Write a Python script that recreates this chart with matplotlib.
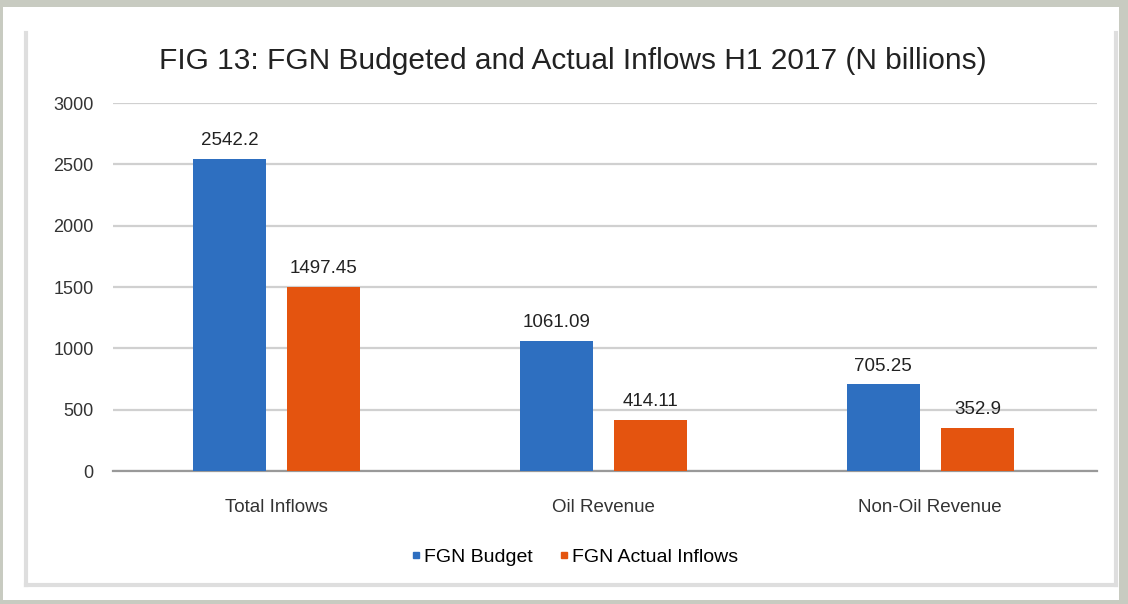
import numpy as np
import matplotlib
matplotlib.use('Agg')
import matplotlib.pyplot as plt
from matplotlib.lines import Line2D
from matplotlib.patches import Rectangle

plt.rcParams['font.family'] = ['Liberation Sans', 'DejaVu Sans']

categories = ['Total Inflows', 'Oil Revenue', 'Non-Oil Revenue']
budget = [2542.2, 1061.09, 705.25]
actual = [1497.45, 414.11, 352.9]
budget_labels = ['2542.2', '1061.09', '705.25']
actual_labels = ['1497.45', '414.11', '352.9']
yticks = [0, 500, 1000, 1500, 2000, 2500, 3000]

blue = '#2e6fc0'
orange = '#e4540f'

fig = plt.figure(figsize=(11.28, 6.04), dpi=100)
fig.patch.set_facecolor('#c8cbc1')

# white card and the light panel border
W, H = 1128., 604.
fig.patches.append(Rectangle((3 / W, 4 / H), 1116 / W, 593 / H, transform=fig.transFigure,
                             facecolor='white', edgecolor='none', zorder=-5))
for xs, ys in [([26, 26], [33, 585]), ([26, 1116], [585, 585]), ([1116, 1116], [33, 585])]:
    fig.add_artist(Line2D([x / W for x in xs], [1 - y / H for y in ys], color='#dedede', lw=3,
                          zorder=-4))

ax = fig.add_axes([113 / W, 1 - 471 / H, 984 / W, 368 / H])
ax.set_zorder(2)
ax.patch.set_alpha(0)

x = np.arange(len(categories))
w = 0.223
off = 0.144
b1 = ax.bar(x - off, budget, w, color=blue, zorder=3)
b2 = ax.bar(x + off, actual, w, color=orange, zorder=3)

for bars, labs in [(b1, budget_labels), (b2, actual_labels)]:
    for r, t in zip(bars, labs):
        ax.text(r.get_x() + r.get_width() / 2, r.get_height() + 80, t,
                ha='center', va='bottom', fontsize=13.5, color='#222222')

ax.set_xlim(-0.5, 2.51)
ax.set_ylim(0, 3000)
ax.set_yticks(yticks)
ax.set_xticks(x)
ax.set_xticklabels(categories, fontsize=13.5, color='#333333')
ax.tick_params(axis='y', labelsize=13, colors='#333333', length=0, pad=14)
ax.tick_params(axis='x', length=0, pad=20)
ax.grid(axis='y', color='#d0d0d0', lw=1.6, zorder=0)
for s in ['top', 'right', 'left']:
    ax.spines[s].set_visible(False)
ax.spines['bottom'].set_color('#999999')
ax.spines['bottom'].set_linewidth(1.6)

fig.text(573 / W, 1 - 61 / H, 'FIG 13: FGN Budgeted and Actual Inflows H1 2017 (N billions)',
         ha='center', va='center', fontsize=21.5, color='#222222')

handles = [Line2D([], [], marker='s', ls='', color=blue, markersize=5),
           Line2D([], [], marker='s', ls='', color=orange, markersize=5)]
fig.legend(handles, ['FGN Budget', 'FGN Actual Inflows'], loc='center',
           bbox_to_anchor=(575 / W, 1 - 557 / H), ncol=2, frameon=False,
           fontsize=14, handlelength=0.4, handletextpad=0.2, columnspacing=1.4)

fig.savefig('out.png', dpi=100, facecolor=fig.get_facecolor())
